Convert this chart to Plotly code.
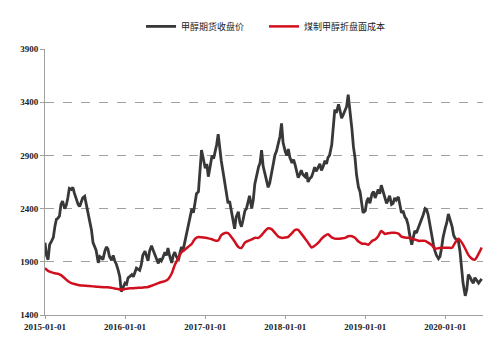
import pandas as pd
import plotly.graph_objects as go

# semi-monthly observation dates (1st and 15th of each month)
dates = pd.date_range("2015-01-01", "2020-06-15", freq="SMS")
# intermediate observations one week later (8th and 22nd)
dates_mid = dates[:-1] + pd.Timedelta(days=7)

futures_close = [
    2080, 1920, 2100, 2230, 2310, 2440, 2400, 2500, 2580, 2545,
    2440, 2470, 2515, 2350, 2200, 2050, 1890, 1940, 2000, 2020,
    1915, 1910, 1820, 1620, 1700, 1750, 1780, 1800, 1830, 1870,
    2000, 1910, 2050, 1975, 1885, 1910, 1990, 2030, 1890, 1990,
    1915, 2040, 2100, 2260, 2400, 2450, 2560, 2950, 2780, 2700,
    2900, 2935, 3100, 2850, 2630, 2450, 2380, 2210, 2370, 2230,
    2380, 2480, 2400, 2630, 2790, 2950, 2720, 2600, 2760, 2905,
    3030, 3200, 2935, 2960, 2830, 2810, 2690, 2760, 2700, 2650,
    2700, 2790, 2800, 2760, 2850, 2880, 3000, 3330, 3380, 3250,
    3330, 3470, 3150, 2880, 2600, 2450, 2380, 2500, 2540, 2500,
    2580, 2620, 2500, 2480, 2440, 2500, 2510, 2360, 2320, 2250,
    2060, 2190, 2220, 2300, 2400, 2340, 2140, 2000, 1930, 2030,
    2220, 2350, 2230, 2120, 2090, 1860, 1580, 1780, 1720, 1750,
    1700, 1740,
]

futures_close_mid = [
    1960, 2060, 2130, 2300, 2330, 2470, 2430, 2590, 2600, 2500,
    2420, 2500, 2440, 2300, 2080, 2010, 1950, 1920, 2040, 1950,
    1960, 1880, 1760, 1660, 1690, 1760, 1760, 1840, 1820, 1960,
    1940, 2000, 2010, 1940, 1930, 1940, 1960, 1960, 1960, 1950,
    1990, 2010, 2180, 2300, 2360, 2540, 2800, 2880, 2820, 2780,
    2870, 3000, 2960, 2760, 2560, 2470, 2300, 2320, 2270, 2290,
    2400, 2520, 2480, 2700, 2830, 2800, 2680, 2640, 2850, 2940,
    3080, 3020, 2900, 2880, 2860, 2740, 2720, 2720, 2740, 2680,
    2740, 2750, 2820, 2790, 2820, 2900, 3200, 3300, 3320, 3280,
    3360, 3350, 2980, 2720, 2560, 2360, 2470, 2450, 2560, 2550,
    2540, 2570, 2450, 2520, 2450, 2480, 2420, 2380, 2300, 2160,
    2130, 2170, 2270, 2340, 2390, 2250, 2060, 1960, 1950, 2130,
    2270, 2300, 2150, 2110, 2000, 1700, 1640, 1760, 1700, 1730,
    1720,
]

coal_cost = [
    1840, 1815, 1800, 1792, 1788, 1775, 1745, 1720, 1700, 1692,
    1682, 1678, 1676, 1673, 1670, 1668, 1665, 1663, 1661, 1660,
    1655, 1650, 1643, 1638, 1645, 1650, 1651, 1653, 1655, 1657,
    1660, 1664, 1675, 1685, 1700, 1710, 1718, 1735, 1790, 1870,
    1940, 1990, 2015, 2040, 2070, 2116, 2134, 2130, 2125, 2120,
    2112, 2100, 2100, 2150, 2170, 2170, 2130, 2090, 2040, 2030,
    2080, 2097, 2110, 2125, 2125, 2150, 2190, 2215, 2205, 2172,
    2135, 2125, 2128, 2135, 2170, 2200, 2200, 2165, 2120, 2080,
    2035, 2050, 2080, 2115, 2145, 2160, 2130, 2118, 2116, 2120,
    2125, 2140, 2140, 2125, 2090, 2072, 2069, 2060, 2095, 2110,
    2140, 2190, 2162, 2168, 2172, 2172, 2165, 2136, 2128, 2125,
    2118, 2110, 2097, 2097, 2097, 2080, 2055, 2023, 2028, 2032,
    2032, 2032, 2032, 2080, 2116, 2085, 2023, 1965, 1930, 1920,
    1976, 2035,
]

y_ticks = [1400, 1900, 2400, 2900, 3400, 3900]
x_ticks = ["2015-01-01", "2016-01-01", "2017-01-01", "2018-01-01", "2019-01-01", "2020-01-01"]

names = ["甲醇期货收盘价", "煤制甲醇折盘面成本"]
colors = ["#383838", "#d0101e"]

fut = pd.concat([
    pd.Series(futures_close, index=dates),
    pd.Series(futures_close_mid, index=dates_mid),
]).sort_index()

fig = go.Figure()
fig.add_trace(go.Scatter(x=fut.index, y=fut.values, mode="lines", name=names[0],
                         line=dict(color=colors[0], width=2.8)))
fig.add_trace(go.Scatter(x=dates, y=coal_cost, mode="lines", name=names[1],
                         line=dict(color=colors[1], width=2.5, shape="spline", smoothing=0.6)))

tick_font = dict(family="Liberation Serif, DejaVu Serif, serif", size=9, color="#222", weight="bold")

fig.update_layout(
    width=501, height=351,
    margin=dict(l=45, r=18, t=46, b=36),
    paper_bgcolor="white", plot_bgcolor="white",
    showlegend=True,
    legend=dict(orientation="h", x=0.5, xanchor="center", y=1.085, yanchor="middle",
                font=dict(family="Noto Sans CJK SC", size=9, color="#222"),
                entrywidth=78, itemwidth=30),
    xaxis=dict(type="date", range=["2015-01-01", "2020-06-21"],
               tickvals=x_ticks, ticktext=x_ticks,
               showgrid=False, showline=True, linecolor="#a0a0a0", linewidth=1,
               ticks="outside", ticklen=3, tickcolor="#a0a0a0",
               tickfont=tick_font, zeroline=False),
    yaxis=dict(range=[1400, 3900], tickvals=y_ticks,
               showgrid=True, gridcolor="#a0a0a0", griddash="dash", gridwidth=1,
               showline=True, linecolor="#a0a0a0", linewidth=1,
               ticks="outside", ticklen=4, tickcolor="#a0a0a0",
               tickfont=tick_font, zeroline=False),
)

fig.write_html("out.html")
